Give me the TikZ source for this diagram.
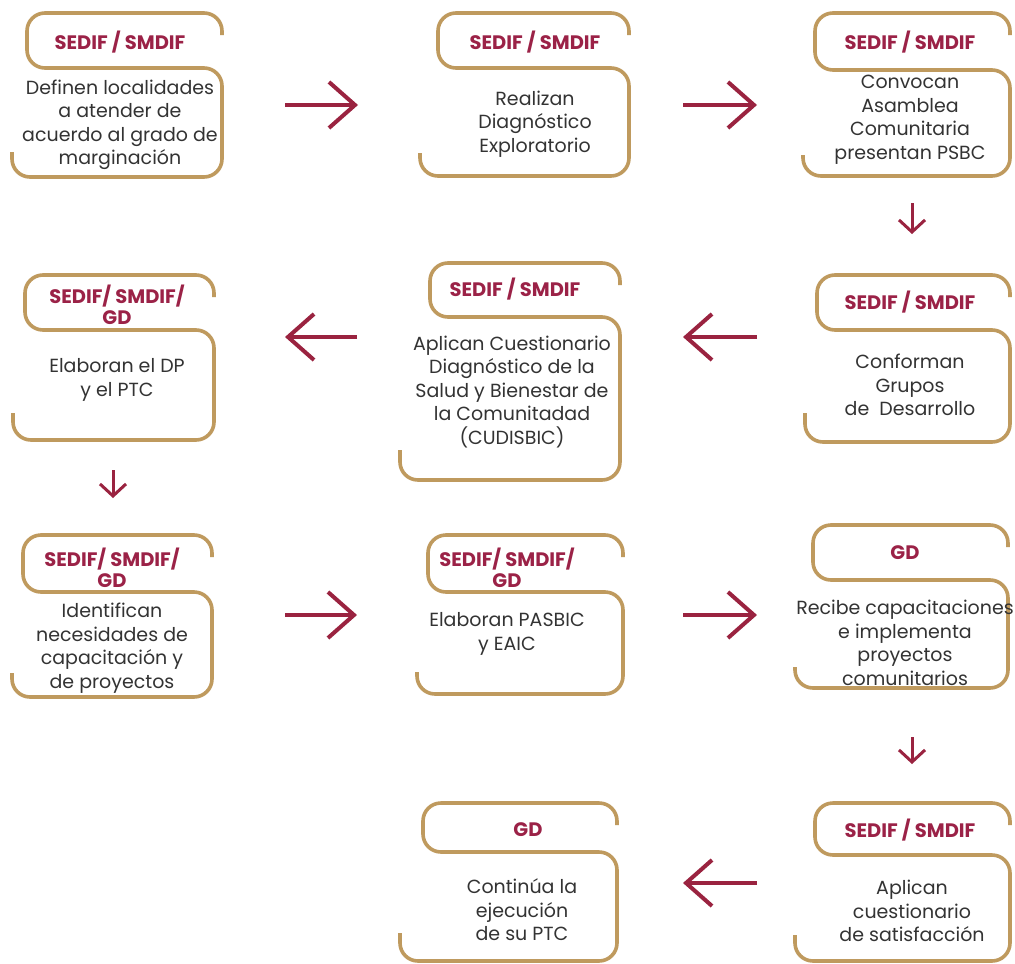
\documentclass[tikz,border=0pt]{standalone}
\usepackage{fontspec}
\setmainfont{Poppins}
\usetikzlibrary{arrows.meta}
\definecolor{gold}{HTML}{BF9A5E}
\definecolor{wine}{HTML}{9B2247}
\definecolor{txt}{HTML}{333333}
\definecolor{arr}{HTML}{9A2340}
\newcommand\Sshape[7]{%
  \draw[frame] (#3,#4+22) -- (#3,#4) -- (#1,#4) -- (#1,#5) -- (#3,#5) -- (#3,#6) -- (#2,#6) -- (#2,#7);}
\tikzset{
  frame/.style={draw=gold, line width=3.6pt, rounded corners=18pt},
  head/.style={text=wine, font=\bfseries\fontsize{19.5}{21.5}\selectfont, align=center, inner sep=0pt},
  body/.style={text=txt, font=\fontsize{19}{23.5}\selectfont, align=center, inner sep=0pt},
  harrow/.style={draw=arr, line width=4pt, -{Straight Barb[length=26pt,width=46pt]}},
  varrow/.style={draw=arr, line width=3pt, -{Straight Barb[length=12pt,width=26pt]}}
}
\begin{document}
\begin{tikzpicture}[x=1pt,y=-1pt]
\useasboundingbox[fill=white] (0,0) rectangle (1015,964);
% frames
\Sshape{27}{12}{222}{13}{68}{177}{152}
\Sshape{438}{420}{629}{13}{68}{176}{153}
\Sshape{815}{803}{1010}{13}{70}{176}{155}
\Sshape{25}{13}{214}{275}{330}{440}{413}
\Sshape{430}{400}{620}{263}{317}{480}{450}
\Sshape{817}{805}{1010}{275}{330}{442}{413}
\Sshape{23}{12}{212}{535}{592}{697}{673}
\Sshape{428}{417}{623}{535}{592}{694}{672}
\Sshape{813}{795}{1008}{525}{580}{688}{667}
\Sshape{423}{400}{617}{803}{852}{961}{933}
\Sshape{815}{795}{1010}{803}{855}{961}{935}
% texts
\node[head] (h1) at (120,42) {SEDIF / SMDIF};
\node[body] (t1) at (120,125) {Definen localidades\\a atender de\\acuerdo al grado de\\marginación};
\node[head] (h2) at (535,42) {SEDIF / SMDIF};
\node[body] (t2) at (535,124) {Realizan\\Diagnóstico\\Exploratorio};
\node[head] (h3) at (910,42) {SEDIF / SMDIF};
\node[body] (t3) at (910,120) {Convocan\\Asamblea\\Comunitaria\\presentan PSBC};
\node[head] (h4) at (117,305) {SEDIF/ SMDIF/\\GD};
\node[body] (t4) at (117,380) {Elaboran el DP\\y el PTC};
\node[head] (h5) at (515,289) {SEDIF / SMDIF};
\node[body] (t5) at (512,392) {Aplican Cuestionario\\Diagnóstico de la\\Salud y Bienestar de\\la Comunitadad\\(CUDISBIC)};
\node[head] (h6) at (910,302) {SEDIF / SMDIF};
\node[body] (t6) at (910,385) {Conforman\\Grupos\\de\ \ Desarrollo};
\node[head] (h7) at (112,568) {SEDIF/ SMDIF/\\GD};
\node[body] (t7) at (112,648) {Identifican\\necesidades de\\capacitación y\\de proyectos};
\node[head] (h8) at (507,568) {SEDIF/ SMDIF/\\GD};
\node[body] (t8) at (507,634) {Elaboran PASBIC\\y EAIC};
\node[head] (h9) at (905,553) {GD};
\node[body] (t9) at (905,643) {Recibe capacitaciones\\e implementa\\proyectos\\comunitarios};
\node[head] (h10) at (528,830) {GD};
\node[body] (t10) at (522,910) {Continúa la\\ejecución\\de su PTC};
\node[head] (h11) at (910,830) {SEDIF / SMDIF};
\node[body] (t11) at (912,911) {Aplican\\cuestionario\\de satisfacción};
% arrows
\coordinate (a1s) at (285,105); \coordinate (a1e) at (358,105);
\coordinate (a2s) at (683,105); \coordinate (a2e) at (757,105);
\coordinate (d1s) at (912,203); \coordinate (d1e) at (912,234);
\coordinate (a3s) at (757,337); \coordinate (a3e) at (683,337);
\coordinate (a4s) at (357,337); \coordinate (a4e) at (285,337);
\coordinate (d2s) at (113,470); \coordinate (d2e) at (113,498);
\coordinate (a5s) at (285,615); \coordinate (a5e) at (357,615);
\coordinate (a6s) at (683,615); \coordinate (a6e) at (757,615);
\coordinate (d3s) at (912,737); \coordinate (d3e) at (912,764);
\coordinate (a7s) at (757,883); \coordinate (a7e) at (683,883);
\draw[harrow] (a1s) -- (a1e);
\draw[harrow] (a2s) -- (a2e);
\draw[varrow] (d1s) -- (d1e);
\draw[harrow] (a3s) -- (a3e);
\draw[harrow] (a4s) -- (a4e);
\draw[varrow] (d2s) -- (d2e);
\draw[harrow] (a5s) -- (a5e);
\draw[harrow] (a6s) -- (a6e);
\draw[varrow] (d3s) -- (d3e);
\draw[harrow] (a7s) -- (a7e);
\end{tikzpicture}
\end{document}
